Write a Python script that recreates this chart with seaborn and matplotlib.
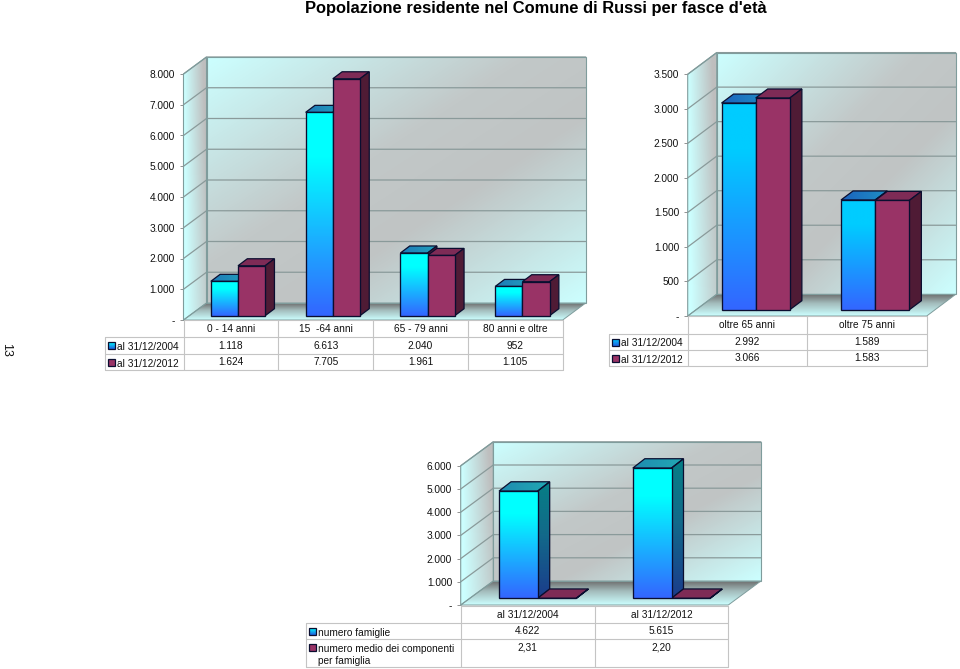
import numpy as np
import pandas as pd
import matplotlib
matplotlib.use("Agg")
import matplotlib.pyplot as plt
from matplotlib.colors import LinearSegmentedColormap as LSC
from matplotlib.patches import Polygon, Rectangle
import seaborn as sns

TITLE = "Popolazione residente nel Comune di Russi per fasce d'età"
PAGE = "13"

age_categories = ["0 - 14 anni", "15  -64 anni", "65 - 79 anni", "80 anni e oltre"]
age_2004 = [1118, 6613, 2040, 952]
age_2012 = [1624, 7705, 1961, 1105]
age_series = ["al 31/12/2004", "al 31/12/2012"]
age_ticks = [0, 1000, 2000, 3000, 4000, 5000, 6000, 7000, 8000]

old_categories = ["oltre 65 anni", "oltre 75 anni"]
old_2004 = [2992, 1589]
old_2012 = [3066, 1583]
old_series = ["al 31/12/2004", "al 31/12/2012"]
old_ticks = [0, 500, 1000, 1500, 2000, 2500, 3000, 3500]

fam_categories = ["al 31/12/2004", "al 31/12/2012"]
fam_count = [4622, 5615]
fam_size = [2.31, 2.20]
fam_series = ["numero famiglie", "numero medio dei componenti\nper famiglia"]
fam_ticks = [0, 1000, 2000, 3000, 4000, 5000, 6000]

W, H = 960, 669
FS = 7.3
sns.set_theme(style="white")
plt.rcParams["font.family"] = ["Liberation Sans", "DejaVu Sans"]
TXT = "#111111"
MAROON, MAROON_TOP, MAROON_SIDE = "#993366", "#7E2B56", "#4F1B35"
EDGE = "#0A0E30"
WALL = LSC.from_list("wall", [(0, "#CCFFFF"), (.42, "#C2C8C8"), (.62, "#C0C4C4"), (1, "#CCFFFF")])
LWALL = LSC.from_list("lwall", ["#CCFFFF", "#BEBEBE"])
FLOOR = LSC.from_list("floor", [(0, "#6E6E6E"), (.42, "#A3BCBC"), (1, "#CCFFFF")])
GRID, FRAME, TLINE = "#8A9A9A", "#7F9C9C", "#C4C4C4"

fig = plt.figure(figsize=(W / 100, H / 100), dpi=100, facecolor="white")
tax = fig.add_axes([0, 0, 1, 1], zorder=10)
tax.set_xlim(0, W)
tax.set_ylim(H, 0)
tax.axis("off")
tax.patch.set_alpha(0)


def fmt(v):
    if isinstance(v, float):
        return f"{v:.2f}".replace(".", ",")
    return f"{v:,}".replace(",", ".")


def grad(ax, pts, cmap, field, z, vmin=0, vmax=1):
    pts = np.asarray(pts, float)
    x0, y0 = pts.min(0)
    x1, y1 = pts.max(0)
    u, v = np.meshgrid(np.linspace(0, 1, 120), np.linspace(0, 1, 120))
    im = ax.imshow(field(u, v), cmap=cmap, vmin=vmin, vmax=vmax, aspect="auto",
                   extent=(x0, x1, y0, y1), origin="upper", interpolation="bilinear", zorder=z)
    clip = Polygon(pts, closed=True, transform=ax.transData, facecolor="none", edgecolor="none")
    ax.add_patch(clip)
    im.set_clip_path(clip)
    return im


def chart(cats, series, s1, s2, ticks, g, top_hi, top_cmap, side_cmap=None):
    fx, fy, dx, dy, cw, ppu = g["fx"], g["fy"], g["dx"], g["dy"], g["cw"], g["ppu"]
    c0, base, bdx, bdy = g["c0"], g["base"], g["bdx"], g["bdy"]
    n = len(cats)
    L, R, T = fx, fx + n * cw + dx, fy - ticks[-1] * ppu - dy
    ax = fig.add_axes([L / W, 1 - fy / H, (R - L) / W, (fy - T) / H])
    df = pd.DataFrame({
        "cat": list(cats) * 2,
        "val": list(s1) + list(s2),
        "ser": [series[0]] * n + [series[1]] * n,
    })
    sns.barplot(data=df, x="cat", y="val", hue="ser", order=cats, hue_order=series,
                palette=["#33CCFF", MAROON], saturation=1, width=g["bw"], gap=0, dodge=True,
                legend=False, edgecolor=EDGE, linewidth=0.95, errorbar=None, ax=ax)
    t0 = (fy - base) / dy
    ux, uy = dx / cw, dy / ppu          # full depth of the box, in data units
    xl = (fx + t0 * dx - c0) / cw
    xr = xl + n

    def P(x, v, t):
        return (x + (t - t0) * ux, v + (t - t0) * uy)

    vtop = ticks[-1]
    back = [P(xl, 0, 1), P(xr, 0, 1), P(xr, vtop, 1), P(xl, vtop, 1)]
    left = [P(xl, 0, 0), P(xl, 0, 1), P(xl, vtop, 1), P(xl, vtop, 0)]
    floor = [P(xl, 0, 0), P(xr, 0, 0), P(xr, 0, 1), P(xl, 0, 1)]
    grad(ax, back, WALL, lambda u, v: (u + v) / 2, 1)
    grad(ax, left, LWALL, lambda u, v: np.clip(u * (0.85 + 0.35 * (1 - v)) - 0.1 * v, 0, 1), 1)
    grad(ax, floor, FLOOR, lambda u, v: v, 1.2)
    for t_ in ticks[1:]:
        a, b, c = P(xl, t_, 0), P(xl, t_, 1), P(xr, t_, 1)
        ax.plot([a[0], b[0], c[0]], [a[1], b[1], c[1]], color=GRID, lw=0.9, zorder=1.5, clip_on=False)
    for poly in (back, left):
        ax.add_patch(Polygon(poly, closed=True, fill=False, ec=FRAME, lw=0.8, zorder=1.6, clip_on=False))
    ax.add_patch(Polygon(floor, closed=True, fill=False, ec=FRAME, lw=0.7, zorder=1.6, clip_on=False))

    bx, by = bdx / cw, bdy / ppu
    for idx, (cont, z) in enumerate(zip(ax.containers, (3, 3.2))):
        for p in cont.patches:
            x, w, h = p.get_x(), p.get_width(), p.get_height()
            top = [(x, h), (x + w, h), (x + w + bx, h + by), (x + bx, h + by)]
            side = [(x + w, 0), (x + w + bx, by), (x + w + bx, h + by), (x + w, h)]
            if idx == 0:
                grad(ax, top, top_cmap, lambda u, v: u, z)
                ax.add_patch(Polygon(top, closed=True, fill=False, ec=EDGE, lw=0.9, zorder=z + .05))
                if side_cmap is None:
                    ax.add_patch(Polygon(side, closed=True, fc=MAROON_SIDE, ec=EDGE, lw=0.9, zorder=z + .05))
                else:
                    grad(ax, side, side_cmap, lambda u, v: v, z)
                    ax.add_patch(Polygon(side, closed=True, fill=False, ec=EDGE, lw=0.9, zorder=z + .05))
                front = [(x, 0), (x + w, 0), (x + w, h), (x, h)]
                cm = LSC.from_list("b", [(0, top_hi), (.22, top_hi), (1, "#3366FF")])
                grad(ax, front, cm, lambda u, v: v, 4)
                p.set_facecolor("none")
            else:
                ax.add_patch(Polygon(top, closed=True, fc=MAROON_TOP, ec=EDGE, lw=0.9, zorder=z))
                ax.add_patch(Polygon(side, closed=True, fc=MAROON_SIDE, ec=EDGE, lw=0.9, zorder=z))
            p.set_zorder(5)

    ax.set_xticks([])
    ax.set_xlabel("")
    ax.set_ylabel("")
    ax.set_yticks([v - t0 * uy for v in ticks])
    ax.set_yticklabels(["-" if v == 0 else fmt(v) for v in ticks])
    ax.tick_params(axis="y", length=3, width=0.6, color="#808080", pad=3.2,
                   labelsize=FS, labelcolor=TXT, left=True)
    ax.set_xlim((fx - c0) / cw, (R - c0) / cw)
    ax.set_ylim((base - fy) / ppu, (base - T) / ppu)
    ax.patch.set_alpha(0)
    sns.despine(ax=ax, left=True, bottom=True)

    # data table below the box
    ys, tl = g["rows"], g["tl"]
    tr = fx + n * cw
    tax.plot([fx, tr], [ys[0], ys[0]], color=TLINE, lw=0.8)
    for y in ys[1:]:
        tax.plot([tl, tr], [y, y], color=TLINE, lw=0.8)
    tax.plot([tl, tl], [ys[1], ys[-1]], color=TLINE, lw=0.8)
    for i in range(n + 1):
        tax.plot([fx + i * cw] * 2, [ys[0], ys[-1]], color=TLINE, lw=0.8)
    for i, c in enumerate(cats):
        xc = fx + (i + .5) * cw
        tax.text(xc, (ys[0] + ys[1]) / 2 + .3, c, ha="center", va="center", fontsize=FS, color=TXT)
        tax.text(xc, (ys[1] + ys[2]) / 2 + .3, fmt(s1[i]), ha="center", va="center", fontsize=FS, color=TXT)
        tax.text(xc, ys[2] + 7.8, fmt(s2[i]), ha="center", va="center", fontsize=FS, color=TXT)
    for k, (name, yy) in enumerate(zip(series, (ys[1], ys[2]))):
        sy = yy + 5
        s = 7
        if k == 0:
            tax.imshow(np.linspace(0, 1, 30)[:, None], cmap=LSC.from_list("s", [top_hi, "#1F5FE0"]),
                       extent=(tl + 2.5, tl + 2.5 + s, sy + s, sy), aspect="auto", zorder=3)
            tax.add_patch(Rectangle((tl + 2.5, sy), s, s, fill=False, ec=EDGE, lw=0.9, zorder=4))
        else:
            tax.add_patch(Rectangle((tl + 2.5, sy), s, s, fc=MAROON, ec=EDGE, lw=0.9, zorder=4))
        tax.text(tl + 11.7, yy + 4.6, name, ha="left", va="top", fontsize=FS, color=TXT, linespacing=1.3)
    tax.set_xlim(0, W)
    tax.set_ylim(H, 0)
    return ax


TOP1 = LSC.from_list("t1", ["#1E7AB8", "#22A0BC"])
TOP2 = LSC.from_list("t2", ["#1B63BE", "#1F8FC4"])
TOP3 = LSC.from_list("t3", ["#1F8CB0", "#22A8B4"])
SIDE3 = LSC.from_list("s3", [(0, "#067F86"), (.45, "#126A8A"), (1, "#1B3C8C")])

chart(age_categories, age_series, age_2004, age_2012, age_ticks,
      dict(fx=183.5, fy=320, dx=23, dy=17, cw=94.8, ppu=0.03075, c0=238, base=315.7,
           bdx=9.3, bdy=7, bw=0.573, rows=[320, 337.3, 354.3, 370.3], tl=105.3),
      "#00FFFF", TOP1)
chart(old_categories, old_series, old_2004, old_2012, old_ticks,
      dict(fx=687.7, fy=316, dx=29, dy=21.7, cw=119.5, ppu=0.06906, c0=755.7, base=309.7,
           bdx=12, bdy=9, bw=0.572, rows=[316, 333.7, 350, 366], tl=609),
      "#00CCFF", TOP2)
chart(fam_categories, fam_series, fam_count, fam_size, fam_ticks,
      dict(fx=460.7, fy=605, dx=32.6, dy=24, cw=133.8, ppu=0.0232, c0=537.7, base=598.3,
           bdx=12, bdy=9.3, bw=0.578, rows=[605.7, 623, 639.3, 667.3], tl=306),
      "#00FFFF", TOP3, SIDE3)

tax.text(536, 8.5, TITLE, ha="center", va="center", fontsize=11.85, fontweight="bold", color="#000000")
tax.text(6, 350, PAGE, ha="center", va="center", rotation=270, fontsize=8.9, color=TXT)

fig.savefig("out.png", dpi=100)
